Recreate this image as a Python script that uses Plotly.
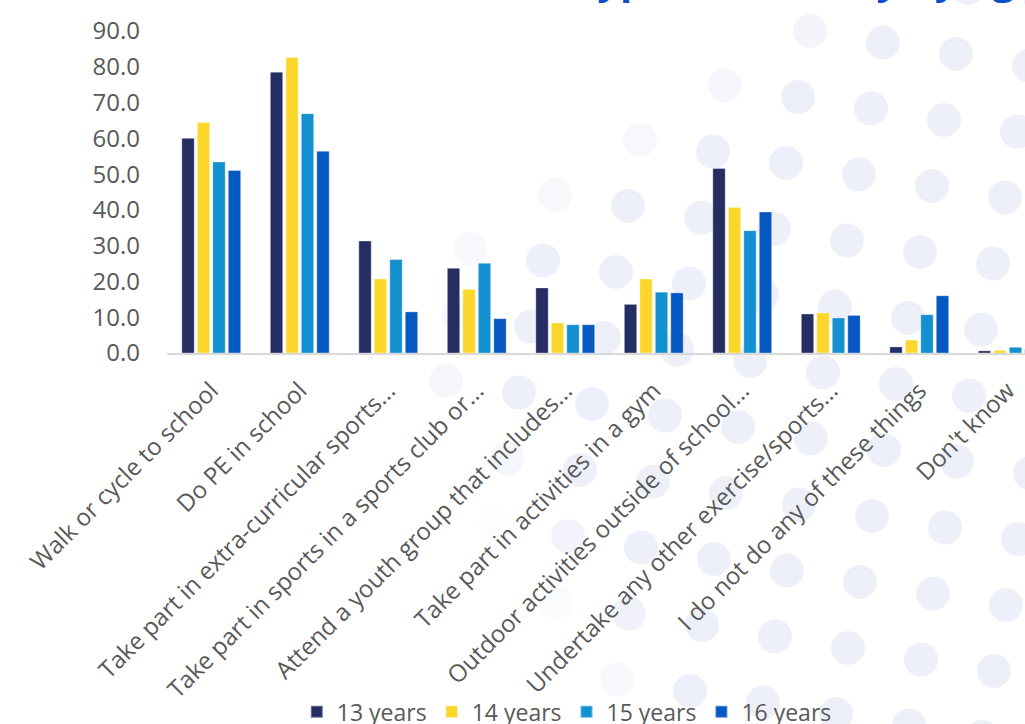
import numpy as np
import plotly.graph_objects as go

# Activities (x categories)
categories = [
    "Walk or cycle to school",
    "Do PE in school",
    "Take part in extra-curricular sports...",
    "Take part in sports in a sports club or...",
    "Attend a youth group that includes...",
    "Take part in activities in a gym",
    "Outdoor activities outside of school...",
    "Undertake any other exercise/sports...",
    "I do not do any of these things",
    "Don't know",
]

# Percentage of pupils by age
age_13 = [60.0, 78.5, 31.3, 23.7, 18.2, 13.6, 51.6, 10.9, 1.7, 0.6]
age_14 = [64.4, 82.6, 20.7, 17.8, 8.4, 20.7, 40.7, 11.2, 3.6, 0.7]
age_15 = [53.4, 66.9, 26.1, 25.1, 7.9, 17.0, 34.2, 9.8, 10.7, 1.6]
age_16 = [51.0, 56.4, 11.5, 9.6, 7.9, 16.8, 39.4, 10.5, 16.0, 1.0]

series_names = ["13 years", "14 years", "15 years", "16 years"]
series_values = [age_13, age_14, age_15, age_16]
series_colors = ["#252E63", "#FCD72B", "#1390D0", "#0557C2"]

y_ticks = [0, 10, 20, 30, 40, 50, 60, 70, 80, 90]

W, H = 1025, 724
M_L, M_R, M_T, M_B = 167, 0, 31, 371
PW, PH = W - M_L - M_R, H - M_T - M_B
CAT_W = 88.5  # pixel width of one category slot

fig = go.Figure()
for name, vals, col in zip(series_names, series_values, series_colors):
    fig.add_trace(go.Bar(
        name=name, x=categories, y=vals,
        marker=dict(color=col, line=dict(color="rgba(255,255,255,0.35)", width=1)),
    ))

# Decorative dotted backdrop: a skewed lattice of soft circles that fades out to the left
def to_paper(px, py):
    return (px - M_L) / PW, (H - M_B - py) / PH

edge_y = [0, 73, 197, 252, 380, 500, 724]
edge_x = [770, 690, 500, 420, 390, 470, 590]
shapes = []
ax_, ay_ = 73.0, 11.5
bx_, by_ = -12.0, 66.0
ox, oy = 786.0, 163.0
rad = 17.0
for m in range(-6, 12):
    for n in range(-16, 8):
        cx = ox + n * ax_ + m * bx_
        cy = oy + n * ay_ + m * by_
        if cx < -rad or cx > W + rad or cy < -rad or cy > H + rad:
            continue
        edge = np.interp(cy, edge_y, edge_x)
        f = float(np.clip((cx - edge) / 110.0, 0, 1))
        if f <= 0.02:
            continue
        x0, y0 = to_paper(cx - rad, cy + rad)
        x1, y1 = to_paper(cx + rad, cy - rad)
        shapes.append(dict(
            type="circle", xref="paper", yref="paper", x0=x0, y0=y0, x1=x1, y1=y1,
            fillcolor="#E3E6F5", line=dict(width=0), opacity=0.62 * f, layer="below",
        ))

tick_font = dict(family="Open Sans, sans-serif", size=24, color="#595959")

fig.update_layout(
    width=W, height=H,
    margin=dict(l=M_L, r=M_R, t=M_T, b=M_B),
    paper_bgcolor="white", plot_bgcolor="rgba(0,0,0,0)",
    barmode="group", bargap=0.30, bargroupgap=0.2,
    shapes=shapes,
    showlegend=True,
    legend=dict(
        orientation="h", xref="container", yref="container",
        x=0.553, xanchor="center", y=0.017, yanchor="middle",
        font=dict(family="Open Sans, sans-serif", size=23, color="#595959"),
        bgcolor="rgba(0,0,0,0)", itemsizing="constant",
    ),
    xaxis=dict(
        range=[-0.5, -0.5 + PW / CAT_W],
        tickangle=-45, tickfont=tick_font, automargin=False,
        showline=True, linecolor="#D9D9D9", linewidth=2,
        showgrid=False, ticks="", ticklabelstandoff=12,
    ),
    yaxis=dict(
        range=[0, 90], tickvals=y_ticks, tickformat=".1f",
        tickfont=tick_font, automargin=False,
        showgrid=False, zeroline=False, showline=False, ticks="",
        ticklabelstandoff=26,
    ),
    annotations=[dict(
        text="Types of activity by age group", xref="paper", yref="paper",
        x=(870 - M_L) / PW, y=1 + (M_T + 21) / PH, xanchor="center", yanchor="middle",
        showarrow=False,
        font=dict(family="Open Sans, sans-serif", size=40, color="#0B50C6", weight="bold"),
    )],
)

fig.write_html("out.html")
